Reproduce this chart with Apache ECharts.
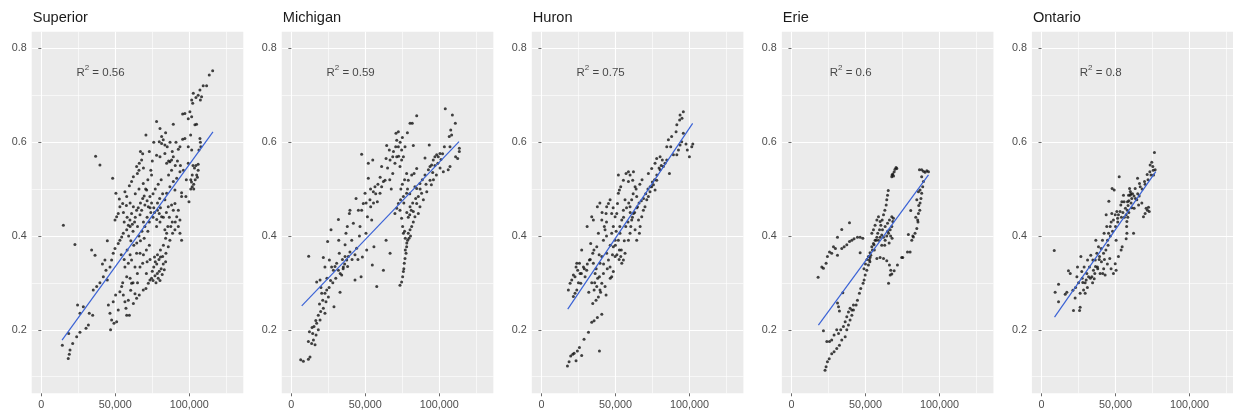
<!DOCTYPE html>
<html><head><meta charset="utf-8">
<script src="https://cdn.jsdelivr.net/npm/echarts@6/dist/echarts.min.js"></script>
<style>html,body{margin:0;padding:0;background:#fff;overflow:hidden}#c{width:1250px;height:412px}</style>
</head><body><div id="c"></div><script>
const lakes = ['Superior', 'Michigan', 'Huron', 'Erie', 'Ontario'];
const r2Values = ['0.56', '0.59', '0.75', '0.6', '0.8'];
const r2Position = [40000, 0.75];
const xTickValues = [0, 50000, 100000];
const xMinorValues = [25000, 75000, 125000];
const yTickValues = [0.2, 0.4, 0.6, 0.8];
const yMinorValues = [0.1, 0.3, 0.5, 0.7];
const xRange = [-6500, 136500];
const yRange = [0.0646, 0.8354];

const superior = [
[14200,0.167],[14900,0.423],[18200,0.139],[18900,0.148],[19400,0.157],[18500,0.192],[21200,0.171],[22700,0.382],[23900,0.185],[24500,0.253],[26100,0.235],[26100,0.195],[28400,0.249],[30200,0.203],[31800,0.21],[32400,0.235],[34700,0.231],[34000,0.37],[36300,0.359],[36700,0.57],[39600,0.551],[35100,0.285],[37400,0.292],
[39600,0.3],[41900,0.313],[43700,0.327],[44600,0.306],[43000,0.349],[41300,0.34],[44600,0.39],[46400,0.334],[47500,0.349],[48600,0.363],[49800,0.373],[48200,0.523],[50400,0.491],[52700,0.479],[49800,0.434],[50900,0.441],[52000,0.448],[53100,0.462],[55000,0.469],[56500,0.494],[57700,0.484],[59500,0.507],[61000,0.516],[62200,0.526],[64900,0.533],[64400,0.548],[66200,0.555],[67800,0.562],[70700,0.615],
[52000,0.384],[53100,0.391],[54300,0.398],[55400,0.406],[57700,0.413],[58800,0.423],[59900,0.434],[61000,0.448],[62200,0.462],[64400,0.455],[66700,0.445],[67800,0.455],[70000,0.466],[72300,0.462],[74500,0.47],[73400,0.484],[71200,0.498],[68900,0.512],
[46800,0.2],[45300,0.253],[46400,0.235],[47500,0.221],[49100,0.214],[50900,0.217],[52000,0.242],[48600,0.26],[50200,0.274],[53100,0.281],[54300,0.292],[55400,0.274],[56500,0.26],[57200,0.246],[57700,0.231],[59500,0.231],[58800,0.263],[60400,0.284],[61000,0.299],[63300,0.277],[64400,0.267],[66200,0.274],[62200,0.256],[57700,0.313],[56500,0.334],[58800,0.342],[61000,0.349],[63300,0.334],[64900,0.32],[66700,0.334],[68500,0.342],[66700,0.363],[64400,0.363],
[68900,0.285],[70700,0.288],[72300,0.299],[73400,0.306],[71000,0.32],
[74500,0.31],[75500,0.305],[76800,0.315],[77500,0.3],[78400,0.32],[79000,0.31],[79700,0.325],[80200,0.305],[81000,0.33],[81700,0.318],[82400,0.34],[83100,0.328],[84000,0.345],[76000,0.334],[77000,0.345],[78000,0.34],[79500,0.35],[80500,0.355],[75000,0.325],[82000,0.356],[84200,0.363],[85800,0.377],[86900,0.391],[88700,0.406],[90300,0.413],[92600,0.42],[93700,0.406],[94800,0.391],[93700,0.434],[91500,0.441],[89200,0.455],[88000,0.466],[90300,0.469],[92600,0.455],
[77900,0.42],[80200,0.43],[81300,0.441],[79700,0.448],[78000,0.435],[83500,0.413],[84700,0.406],[85800,0.462],[83500,0.477],[84700,0.491],[86900,0.505],[89200,0.516],[91500,0.523],[93700,0.537],[90300,0.498],[82000,0.49],[80000,0.48],[76000,0.46],[78500,0.47],[75500,0.49],[77000,0.5],[79000,0.51],[81000,0.52],[86000,0.53],[88000,0.54],
[77900,0.644],[80200,0.629],[81300,0.612],[79700,0.601],[81300,0.597],[82400,0.605],[83500,0.594],[85100,0.59],[89200,0.638],[77900,0.572],[80200,0.569],[83500,0.576],[84700,0.555],[86900,0.558],[88000,0.562],[89200,0.569],[92600,0.585],[93700,0.59],[95500,0.606],[97000,0.608],
[94800,0.492],[94800,0.484],[97700,0.484],[99800,0.473],[99300,0.555],
[101000,0.5],[102000,0.505],[103000,0.51],[104000,0.52],[105000,0.53],[106000,0.54],[103500,0.545],[102500,0.55],[101500,0.515],[104500,0.55],[105500,0.525],[102000,0.53],[101000,0.52],[103000,0.5],[106000,0.553],
[100900,0.615],[107200,0.608],[107500,0.6],[107800,0.59],[106500,0.583],[101600,0.583],[99300,0.59],[100400,0.665],[99300,0.65],[101600,0.654],[97000,0.661],[95500,0.66],[104900,0.638],[103800,0.637],[101600,0.69],[102300,0.683],[102700,0.704],[104500,0.695],[106000,0.7],[108300,0.697],[107500,0.69],[109400,0.72],[111700,0.72],[107200,0.711],[113500,0.743],[115800,0.752],
[56000,0.43],[58000,0.44],[60000,0.42],[62000,0.41],[63000,0.43],[65000,0.42],[66000,0.4],[68000,0.41],[69000,0.43],[70000,0.42],[71500,0.44],[73000,0.43],[72000,0.41],[74000,0.45],[75500,0.44],[60500,0.39],[62500,0.38],[64500,0.385],[67000,0.39],[69500,0.395],[71000,0.37],[69000,0.36],[73000,0.38],[55500,0.45],[57500,0.465],[60000,0.47],[63500,0.49],[66000,0.5],[68500,0.48],[70500,0.5],[72000,0.52],[74000,0.54],[75000,0.56],[73000,0.58],[76000,0.6],[74500,0.53],
[58000,0.37],[60000,0.36],[54000,0.36],[56000,0.35],[55000,0.3],[60000,0.31],[62000,0.3],[65000,0.3],[67000,0.58],[68500,0.575],[66000,0.54],[69000,0.545],
[59000,0.4],[61500,0.425],[63500,0.44],[65500,0.46],[67000,0.47],[69500,0.485],[71500,0.475],[73500,0.46],[76500,0.45],[78500,0.455],[80500,0.46],[82500,0.44],[84500,0.45],[86500,0.44],[88500,0.43],[90500,0.43],[87500,0.42],[85500,0.42],[84000,0.395],[82500,0.38],[80500,0.37],[78500,0.36],[76500,0.355],[73500,0.35],[71500,0.345],[86000,0.56],[88500,0.58],[90500,0.55],[92000,0.56],[94000,0.55],[96000,0.54],[98000,0.52],[91000,0.6],[87000,0.6],[84000,0.62]
];

const michigan = [
[6300,0.136],[8100,0.133],[11500,0.137],[12600,0.142],[11700,0.357],[12200,0.196],[11500,0.175],[13700,0.171],[14900,0.178],[14400,0.192],[15300,0.207],[16000,0.168],[16700,0.189],[18200,0.2],[17100,0.214],[19400,0.221],[18200,0.231],[19800,0.239],[21600,0.246],[22700,0.235],[21200,0.263],[17100,0.302],[19400,0.306],[20500,0.278],[22700,0.278],[23900,0.285],[25000,0.27],[23400,0.26],[21600,0.354],[22700,0.334],[24500,0.388],[26800,0.413],[25700,0.349],[27200,0.334],[28400,0.327],[28800,0.249],[31800,0.327],[30600,0.342],[32400,0.363],[32000,0.391],[31800,0.435],[32900,0.28],[34000,0.317],[35100,0.334],[36300,0.356],[37400,0.349],[38500,0.356],[39600,0.366],[39200,0.448],[39600,0.455],[37800,0.42],[36900,0.406],[36300,0.381],[40800,0.391],[41900,0.427],[43700,0.48],[44100,0.374],[43000,0.306],[45300,0.455],[46400,0.42],[47100,0.313],[47500,0.574],[47500,0.455],[48600,0.469],[49800,0.491],[50400,0.406],[50900,0.37],[52000,0.523],[52000,0.555],[51400,0.441],[53100,0.477],[53600,0.462],[54300,0.434],[55000,0.562],[55400,0.494],[54700,0.338],[55800,0.377],[56500,0.505],[58100,0.473],[59900,0.491],[61000,0.505],[62200,0.516],[63300,0.519],[61000,0.548],[62200,0.327],[57700,0.292],[64000,0.391],[66700,0.363],[68500,0.533],[64400,0.593],[66200,0.583],[66700,0.562],[68500,0.569],[70000,0.555],[71200,0.569],[70700,0.619],[72300,0.622],[71200,0.604],[72300,0.59],[73400,0.548],[74500,0.562],[75700,0.569],[74500,0.583],[76800,0.59],[78400,0.62],[80200,0.64],[81700,0.64],[84700,0.656],[82400,0.593],[77900,0.533],[79000,0.519],[81300,0.53],[82900,0.533],[84700,0.544],[83500,0.505],
[73400,0.295],[74500,0.302],[75200,0.313],[75700,0.324],[76300,0.342],[76800,0.352],[77500,0.363],[77900,0.377],[78600,0.391],[79000,0.406],[80200,0.413],[81300,0.42],[82400,0.43],[75700,0.406],[75200,0.42],[74500,0.438],[73400,0.455],[71200,0.459],[70000,0.448],[72300,0.469],[73800,0.477],[75700,0.484],[77900,0.491],[80200,0.462],[82400,0.452],[84700,0.469],[83500,0.441],[85800,0.448],[86900,0.462],[89200,0.477],[91500,0.494],[93700,0.519],[94600,0.509],[88000,0.491],[85800,0.484],[84700,0.501],[86900,0.512],[90300,0.53],[92600,0.541],[93700,0.548],[94800,0.551],[95900,0.562],[97000,0.569],[98200,0.573],[99300,0.569],[100400,0.576],[102200,0.575],[103400,0.59],[101100,0.563],[102700,0.537],[106000,0.541],[107200,0.548],[106700,0.612],[108300,0.615],[107200,0.59],[104000,0.671],[108800,0.658],[107700,0.626],[110800,0.64],[111000,0.569],[112400,0.565],[113500,0.58],[113500,0.587],[93200,0.594],[90300,0.566],
[76000,0.33],[77000,0.37],[78000,0.385],[79500,0.395],[80500,0.4],[77000,0.395],[76500,0.41],[78000,0.45],[79000,0.44],[80000,0.445],[81000,0.455],[76000,0.47],[74000,0.5],[75000,0.51],[76500,0.52],[78500,0.5],[80000,0.49],[82000,0.47],[84000,0.48],[87000,0.5],[88500,0.52],[91000,0.51],[95500,0.535],[97000,0.55],[99000,0.555],[100500,0.545],[98000,0.53],[96000,0.52],[65000,0.545],[66500,0.52],[67500,0.5],[64000,0.565],[69000,0.58],[70500,0.59],[73500,0.6],[75000,0.61],[72500,0.57],[60000,0.525],[58500,0.51],[57000,0.49],[55500,0.47],[53500,0.5],[50500,0.47],[46000,0.4],[43000,0.36],[41000,0.35],[38000,0.335],[35000,0.33],[33000,0.32],[30000,0.31],[28000,0.3],[26500,0.305],[25500,0.29],[24000,0.31],[29500,0.335],[34500,0.35],[36000,0.34],[20000,0.29],[19000,0.255],[16500,0.22],[14000,0.205],[45000,0.35],[48000,0.355]
];

const huron = [
[17600,0.123],[18700,0.132],[19800,0.144],[21200,0.148],[22100,0.15],[23400,0.134],[24300,0.155],[25700,0.162],[27200,0.145],[28800,0.18],[31800,0.195],[34000,0.216],[35600,0.219],[37800,0.226],[40800,0.233],[39200,0.155],
[18200,0.285],[19400,0.299],[20500,0.306],[21600,0.317],[22700,0.313],[23400,0.334],[23900,0.342],[24500,0.327],[25700,0.342],[26100,0.32],[26600,0.299],[22700,0.278],[23900,0.285],[21600,0.271],[27200,0.37],[28400,0.334],[29500,0.313],[30600,0.327],[30900,0.42],[32400,0.349],[33300,0.384],[34000,0.441],[35100,0.434],[34700,0.363],[35100,0.342],[36300,0.32],[37400,0.292],[35600,0.285],[36900,0.263],[34700,0.256],[38500,0.27],[39600,0.285],[40800,0.299],[39200,0.313],[41900,0.32],[43000,0.292],[43700,0.274],[39600,0.342],[40800,0.356],[37400,0.377],[38500,0.406],[37800,0.462],[40800,0.434],[41900,0.391],[43000,0.413],[43700,0.448],[44100,0.462],[45300,0.469],[46400,0.477],[47500,0.448],[47500,0.406],[44100,0.363],[45300,0.349],[46400,0.334],[47500,0.313],[48600,0.324],[49800,0.356],[48600,0.377],[49800,0.391],[48600,0.42],[49800,0.441],[50900,0.448],[51400,0.469],[52000,0.491],[52700,0.498],[53600,0.505],[55400,0.519],[57200,0.533],[58800,0.537],[58800,0.516],[56500,0.477],[55400,0.455],[54300,0.434],[53100,0.406],[52000,0.391],[52700,0.37],[53600,0.356],[54300,0.342],[55400,0.349],[56500,0.363],[58800,0.391],[59900,0.406],[60400,0.42],[61000,0.434],[62200,0.448],[59900,0.462],[61000,0.477],[61700,0.519],[63300,0.505],[64400,0.484],[64900,0.462],[65600,0.434],[66200,0.406],[64400,0.391],[63300,0.413],[66700,0.42],[67800,0.441],[68900,0.455],[70000,0.462],[71200,0.477],[72300,0.484],[73400,0.494],[74500,0.505],[75700,0.509],[76800,0.498],[72300,0.533],[74500,0.544],[76800,0.555],[77900,0.565],[80200,0.569],[81700,0.562],[83500,0.555],[84700,0.562],[86500,0.533],[82400,0.548],[80200,0.541],[77900,0.519],[84700,0.59],[85800,0.605],[88000,0.612],[87400,0.59],[89200,0.573],[91500,0.573],[92600,0.583],[93700,0.594],[91000,0.622],[95900,0.619],[94800,0.601],[91500,0.637],[93400,0.647],[95000,0.651],[95900,0.665],[93700,0.658],[98600,0.583],[100000,0.569],[101600,0.59],[102300,0.596],[97700,0.596],[52000,0.53],[59900,0.53],[62200,0.537],
[66000,0.47],[67500,0.475],[69000,0.48],[70500,0.49],[72000,0.5],[73500,0.505],[75000,0.515],[76500,0.52],[78000,0.53],[79500,0.545],[81000,0.55],[63000,0.45],[64500,0.46],[61500,0.44],[60000,0.45],[58500,0.43],[57000,0.42],[56000,0.39],[54000,0.37],[52500,0.35],[51000,0.36],[50000,0.38],[48000,0.36],[46500,0.38],[44000,0.4],[42500,0.42],[41000,0.45],[39500,0.47],[44000,0.43],[48500,0.46],[50500,0.41],[53000,0.42],[55500,0.44],[57500,0.46],[59000,0.47],[62000,0.49],[64000,0.5],[66500,0.51],[68000,0.52],[25000,0.3],[27000,0.32],[29000,0.33],[31000,0.34],[33000,0.35],[35500,0.37],[37000,0.33],[39000,0.36],[42000,0.34],[44500,0.33],[46500,0.31],[38000,0.31],[36000,0.3],[34000,0.3],[32000,0.28],[40000,0.28]
];

const erie = [
[22700,0.114],[23400,0.121],[24300,0.132],[25500,0.138],[27200,0.149],[28800,0.153],[30600,0.16],[32400,0.167],[34000,0.178],[36300,0.185],[37400,0.2],[38500,0.21],[39600,0.221],[40800,0.231],[41900,0.242],[43700,0.253],[44600,0.263],[45900,0.278],[46800,0.288],[48400,0.299],[49100,0.306],[49800,0.317],[50900,0.327],[52000,0.338],[52700,0.349],[53600,0.359],[54700,0.37],[55800,0.381],[57200,0.391],[58300,0.406],[59500,0.413],[60400,0.423],[61300,0.434],[62200,0.445],[63100,0.455],[64000,0.466],[64400,0.477],[64900,0.487],[65400,0.497],
[21600,0.198],[23900,0.175],[25700,0.175],[27200,0.178],[28800,0.189],[30600,0.2],[31800,0.192],[33300,0.2],[35100,0.207],[36300,0.217],[37400,0.228],[38500,0.238],[39600,0.246],[40800,0.242],[41900,0.253],[31100,0.257],[31800,0.249],[32400,0.24],[34700,0.279],
[18000,0.312],[20500,0.334],[21600,0.331],[23400,0.342],[24300,0.356],[25700,0.366],[27200,0.363],[28400,0.377],[29700,0.373],[31100,0.359],[34000,0.373],[35600,0.377],[37400,0.381],[39200,0.388],[40800,0.391],[42300,0.394],[44600,0.397],[46400,0.397],[48200,0.395],[31100,0.397],[34000,0.414],[39200,0.428],[46400,0.364],
[53100,0.354],[57700,0.352],[59900,0.354],[62200,0.352],[64400,0.347],[66200,0.338],[67100,0.327],[67800,0.319],[65600,0.299],[66700,0.317],[69400,0.326],[71600,0.338],[74500,0.354],
[52000,0.356],[53100,0.364],[54300,0.377],[55400,0.384],[56500,0.391],[57700,0.397],[58800,0.391],[59900,0.397],[61000,0.402],[62200,0.397],[63300,0.391],[64400,0.4],[65600,0.406],[66700,0.413],[67800,0.42],[68500,0.431],[68900,0.438],[67800,0.441],[66200,0.434],[64900,0.427],[63300,0.42],[61500,0.413],[59900,0.431],[58800,0.441],[57700,0.434],[56500,0.423],[55400,0.413],[54300,0.406],[67000,0.4],[68000,0.395],[66000,0.385],[63000,0.38],[61000,0.38],[65000,0.41],[56000,0.37],[53000,0.345],[51000,0.35],[50000,0.34],[49000,0.33],
[67800,0.526],[68500,0.532],[69400,0.537],[70000,0.542],[70700,0.546],[71200,0.544],[68000,0.53],[69000,0.528],
[75200,0.354],[78400,0.366],[80200,0.366],[81300,0.391],[82400,0.398],[83500,0.406],[84700,0.416],[85300,0.434],[85800,0.448],[86700,0.455],[86900,0.47],[84700,0.477],[85800,0.494],[86900,0.498],[88000,0.491],[88700,0.505],[89200,0.516],[88000,0.526],[86500,0.541],[88000,0.541],[89200,0.538],[90300,0.536],[91500,0.539],[92600,0.537],[80600,0.454],[79000,0.403],[82000,0.4],[86000,0.465],[87500,0.48],[85500,0.43],[84000,0.44]
];

const ontario = [
[8600,0.369],[9200,0.28],[11500,0.26],[11500,0.297],[16000,0.276],[17100,0.28],[18200,0.326],[19400,0.32],[21600,0.241],[21200,0.284],[22700,0.268],[23900,0.313],[24300,0.334],[25700,0.241],[26100,0.248],[26100,0.278],[26600,0.356],[27200,0.324],[27900,0.301],[28400,0.285],[29500,0.278],[28800,0.334],[30200,0.306],[30600,0.32],[31100,0.349],[31800,0.313],[32400,0.334],[33300,0.359],[34000,0.313],[34700,0.349],[35100,0.327],[35600,0.309],[36300,0.349],[36700,0.391],[37400,0.363],[37800,0.334],[38500,0.377],[39200,0.356],[39600,0.32],[40300,0.373],[41200,0.391],[41900,0.363],[42300,0.406],[41400,0.32],[43000,0.317],[43700,0.445],[44100,0.42],[44600,0.391],[45300,0.406],[45500,0.474],[46100,0.352],[46400,0.42],[47100,0.43],[47500,0.448],[47700,0.501],[48600,0.434],[48600,0.32],[49100,0.498],[49800,0.445],[50400,0.327],[49800,0.341],[50400,0.391],[50900,0.452],[51400,0.438],[52000,0.445],[52000,0.356],[52500,0.526],[53100,0.452],[53600,0.466],[54300,0.473],[53800,0.37],[54500,0.377],[55400,0.487],[55800,0.473],[56700,0.459],[57200,0.445],[57200,0.394],[57700,0.431],[58100,0.473],[58800,0.487],[59500,0.501],[59900,0.487],[60400,0.49],[61000,0.48],[62200,0.406],[62600,0.459],[63300,0.501],[64400,0.477],[64900,0.523],[65600,0.466],[66200,0.512],[66700,0.505],[67800,0.47],[68900,0.441],[70000,0.448],[70700,0.459],[71600,0.455],[72300,0.461],[72800,0.452],[71400,0.531],[73200,0.537],[73400,0.551],[74500,0.557],[75200,0.548],[75700,0.53],[76300,0.578],[76800,0.541],[69600,0.516],
[57700,0.406],[57500,0.42],[58000,0.455],[58500,0.465],[59000,0.475],[60000,0.495],[61500,0.49],[62500,0.485],[60500,0.47],[59000,0.45],[58300,0.44],[61000,0.46],[63500,0.48],[65000,0.49],[66000,0.485],[68000,0.5],[70000,0.51],[72000,0.52],[74000,0.53],[75500,0.54],[54000,0.44],[55000,0.45],[56000,0.44],[51500,0.43],[50000,0.42],[48000,0.41],[46500,0.4],[45000,0.38],[43500,0.37],[42500,0.35],[40500,0.345],[38000,0.33],[36000,0.32],[34500,0.3],[33000,0.31],[31000,0.29],[29500,0.3],[27500,0.31],[25000,0.3],[23000,0.29],[42000,0.33],[44500,0.34],[47000,0.33],[36500,0.335],[39000,0.35]
];

const pointsByLake = [superior, michigan, huron, erie, ontario];
const fitStarts = [[14000,0.178],[7000,0.251],[17800,0.244],[18200,0.21],[8800,0.227]];
const fitEnds = [[116000,0.622],[113300,0.601],[102200,0.64],[92600,0.53],[77200,0.537]];

const FONT = '"Liberation Sans", Arial, Helvetica, sans-serif';
const chart = echarts.init(document.getElementById('c'), null, {renderer: 'canvas'});
const grids = [], xAxes = [], yAxes = [], series = [], titles = [];
const PL = 31.7, STEP = 250.05, PW = 211.6, PT = 31.7, PH = 361.6;
lakes.forEach((name, i) => {
  grids.push({left: PL + STEP * i, top: PT, width: PW, height: PH, show: true,
    backgroundColor: '#EBEBEB', borderWidth: 0});
  titles.push({text: name, left: PL + STEP * i + 1, top: 10.5, padding: 0,
    textStyle: {fontSize: 14.6, fontWeight: 'normal', color: '#1a1a1a', fontFamily: FONT}});
  xAxes.push({gridIndex: i, type: 'value', min: xRange[0], max: xRange[1], position: 'bottom',
    axisLine: {show: false},
    axisTick: {show: true, length: 3, customValues: xTickValues, lineStyle: {color: '#444', width: 0.8}},
    axisLabel: {show: true, customValues: xTickValues, margin: 6, fontSize: 10.8, color: '#4d4d4d', fontFamily: FONT,
      formatter: v => Number(v).toLocaleString('en-US')},
    splitLine: {show: true, lineStyle: {color: '#ffffff', width: 1.1}}});
  xAxes.push({gridIndex: i, type: 'value', min: xRange[0], max: xRange[1], position: 'top',
    axisLine: {show: false}, axisLabel: {show: false},
    axisTick: {show: false, customValues: xMinorValues},
    splitLine: {show: true, lineStyle: {color: '#ffffff', width: 0.6}}});
  yAxes.push({gridIndex: i, type: 'value', min: yRange[0], max: yRange[1], position: 'left',
    axisLine: {show: false},
    axisTick: {show: true, length: 3, customValues: yTickValues, lineStyle: {color: '#444', width: 0.8}},
    axisLabel: {show: true, customValues: yTickValues, margin: 5, fontSize: 10.8, color: '#4d4d4d', fontFamily: FONT,
      formatter: v => Number(v).toFixed(1)},
    splitLine: {show: true, lineStyle: {color: '#ffffff', width: 1.1}}});
  yAxes.push({gridIndex: i, type: 'value', min: yRange[0], max: yRange[1], position: 'right',
    axisLine: {show: false}, axisLabel: {show: false},
    axisTick: {show: false, customValues: yMinorValues},
    splitLine: {show: true, lineStyle: {color: '#ffffff', width: 0.6}}});
  series.push({type: 'scatter', xAxisIndex: 2 * i, yAxisIndex: 2 * i, data: pointsByLake[i],
    symbol: 'circle', symbolSize: 3, itemStyle: {color: '#141414'}, silent: true, z: 3});
  series.push({type: 'line', xAxisIndex: 2 * i, yAxisIndex: 2 * i, data: [fitStarts[i], fitEnds[i]],
    showSymbol: false, symbol: 'none', lineStyle: {color: '#3a62d6', width: 1.2}, silent: true, z: 4});
  series.push({type: 'scatter', xAxisIndex: 2 * i, yAxisIndex: 2 * i, data: [r2Position],
    symbolSize: 0, silent: true, z: 5,
    label: {show: true, position: 'inside', formatter: '{a|R}{b|2}{a| = ' + r2Values[i] + '}',
      rich: {a: {fontSize: 11.5, lineHeight: 15, color: '#1a1a1a', fontFamily: FONT, verticalAlign: 'bottom'},
             b: {fontSize: 8, lineHeight: 9, color: '#1a1a1a', fontFamily: FONT, verticalAlign: 'top'}}}});
});
chart.setOption({animation: false, title: titles, grid: grids, xAxis: xAxes, yAxis: yAxes, series: series});
</script></body></html>
